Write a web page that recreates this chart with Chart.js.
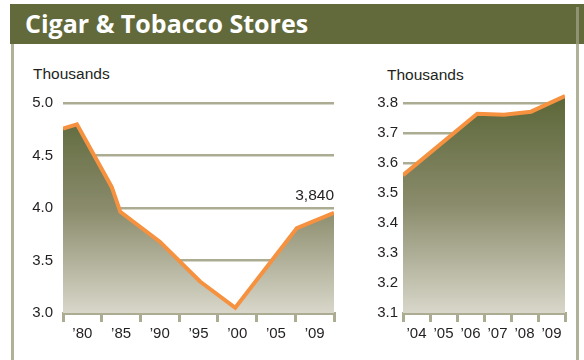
<!DOCTYPE html>
<html>
<head>
<meta charset="utf-8">
<script src="https://cdn.jsdelivr.net/npm/chart.js@4.4.0/dist/chart.umd.min.js"></script>
<style>
    body { margin: 0; background: #fff; }
    #wrap { position: relative; width: 584px; height: 360px; overflow: hidden; font-family: 'Liberation Sans', Arial, sans-serif; }
    .title-bar { position: absolute; left: 10px; top: 4px; width: 574px; height: 40px; background: #626a3b; }
    .title-bar h1 { margin: 0; position: absolute; left: 15px; top: 2px; font: 700 25px 'Open Sans', sans-serif; color: #fff; white-space: nowrap; }
    .edge { position: absolute; background: #b0b298; }
    .unit { position: absolute; font-size: 15.5px; color: #231f20; }
    canvas { position: absolute; }
</style>
</head>
<body>
<div id="wrap">
    <div class="title-bar"><h1>Cigar &amp; Tobacco Stores</h1></div>
    <div class="edge" style="left:11px; top:44px; width:2.5px; height:316px;"></div>
    <div class="edge" style="left:576px; top:7px; width:2.5px; height:37px; background:#8f9370;"></div>
    <div class="edge" style="left:576px; top:44px; width:2.5px; height:316px;"></div>
    <div class="unit" style="left:33px; top:65px;">Thousands</div>
    <div class="unit" style="left:387px; top:66px;">Thousands</div>
    <canvas id="longChart" width="325" height="253" style="left:21px; top:90px;"></canvas>
    <canvas id="recentChart" width="215" height="253" style="left:361px; top:90px;"></canvas>
</div>
<script>
// 1980-2009, positions are in label slots ('80 = 0)
const longLabels = ['\u201980', '\u201985', '\u201990', '\u201995', '\u201900', '\u201905', '\u201909'];
const longX = [-0.5, -0.14, 0.76, 0.98, 2.0, 3.04, 3.95, 5.54, 6.5];
const longValues = [4.76, 4.80, 4.20, 3.965, 3.68, 3.30, 3.05, 3.81, 3.955];
const longYTicks = [3.0, 3.5, 4.0, 4.5, 5.0];
const longNote = '3,840';

// 2004-2009
const recentLabels = ['\u201904', '\u201905', '\u201906', '\u201907', '\u201908', '\u201909'];
const recentX = [-0.5, 2.25, 3.24, 4.24, 5.5];
const recentValues = [3.56, 3.765, 3.762, 3.772, 3.824];
const recentYTicks = [3.1, 3.2, 3.3, 3.4, 3.5, 3.6, 3.7, 3.8];

const gridColor = '#abac91';
const lineColor = '#f6913f';
const textColor = '#231f20';

Chart.defaults.font.family = "'Liberation Sans', Arial, sans-serif";
Chart.defaults.font.size = 15;
Chart.defaults.color = textColor;

function areaGradient(context) {
    const area = context.chart.chartArea;
    if (!area) return null;
    const g = context.chart.ctx.createLinearGradient(0, area.top, 0, area.bottom);
    g.addColorStop(0, '#5a6637');
    g.addColorStop(0.5, '#8a8b6b');
    g.addColorStop(1, '#d8d7ca');
    return g;
}

// draws the value note above the last point
const notePlugin = {
    id: 'note',
    afterDatasetsDraw(chart, args, opts) {
        if (!opts.text) return;
        const meta = chart.getDatasetMeta(0);
        const last = meta.data[meta.data.length - 1];
        const ctx = chart.ctx;
        ctx.save();
        ctx.font = "15.5px 'Liberation Sans', Arial, sans-serif";
        ctx.fillStyle = textColor;
        ctx.textAlign = 'right';
        ctx.textBaseline = 'alphabetic';
        ctx.fillText(opts.text, chart.chartArea.right, last.y - 13);
        ctx.restore();
    }
};

function createChart(id, labels, xs, values, yTicks, yMax, padding, note) {
    const ctx = document.getElementById(id);
    const points = xs.map((x, i) => ({ x: x, y: values[i] }));

    new Chart(ctx, {
        type: 'line',
        data: {
            datasets: [{
                data: points,
                borderColor: lineColor,
                borderWidth: 4,
                borderJoinStyle: 'miter',
                pointRadius: 0,
                tension: 0,
                fill: 'start',
                backgroundColor: areaGradient,
                clip: { left: 0, right: 0, top: 8, bottom: 0 }
            }]
        },
        plugins: [notePlugin],
        options: {
            responsive: false,
            animation: false,
            layout: { padding: { left: 0, right: padding.right, top: padding.top, bottom: 0 } },
            scales: {
                x: {
                    type: 'linear',
                    min: -0.5,
                    max: labels.length - 0.5,
                    afterBuildTicks: scale => {
                        const ticks = [];
                        labels.forEach((l, i) => {
                            ticks.push({ value: i - 0.5 });
                            ticks.push({ value: i });
                        });
                        ticks.push({ value: labels.length - 0.5 });
                        scale.ticks = ticks;
                    },
                    afterFit: scale => { scale.height = 30; },
                    ticks: {
                        autoSkip: false,
                        maxRotation: 0,
                        padding: 3,
                        color: textColor,
                        callback: value => Number.isInteger(value) ? labels[value] : ''
                    },
                    grid: {
                        drawOnChartArea: false,
                        drawTicks: true,
                        tickLength: 9,
                        lineWidth: 3,
                        color: c => (c.tick && Number.isInteger(c.tick.value)) ? 'rgba(0,0,0,0)' : gridColor
                    },
                    border: { display: true, color: gridColor, width: 3 }
                },
                y: {
                    min: yTicks[0],
                    max: yMax,
                    afterBuildTicks: scale => {
                        scale.ticks = yTicks.map(v => ({ value: v }));
                    },
                    afterFit: scale => {
                        scale.width = 42;
                        scale.paddingTop = 0;
                        scale.paddingBottom = 0;
                    },
                    ticks: {
                        padding: padding.tickGap,
                        color: textColor,
                        callback: value => value.toFixed(1)
                    },
                    grid: {
                        drawTicks: false,
                        lineWidth: 2.5,
                        color: gridColor
                    },
                    border: { display: false }
                }
            },
            plugins: {
                legend: { display: false },
                title: { display: false },
                tooltip: { enabled: false },
                note: { text: note }
            }
        }
    });
}

document.addEventListener('DOMContentLoaded', function () {
    createChart('longChart', longLabels, longX, longValues, longYTicks, 5.0,
        { right: 12, top: 13.3, tickGap: 10 }, longNote);
    createChart('recentChart', recentLabels, recentX, recentValues, recentYTicks, 3.83,
        { right: 11, top: 4.3, tickGap: 5 }, '');
});
</script>
</body>
</html>
